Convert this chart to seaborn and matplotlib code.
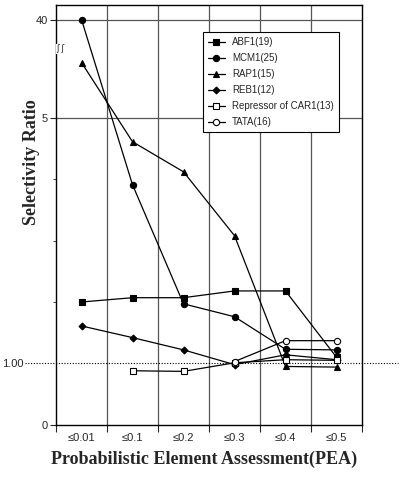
import numpy as np
import pandas as pd
import seaborn as sns
import matplotlib.pyplot as plt

categories = ["≤0.01", "≤0.1", "≤0.2", "≤0.3", "≤0.4", "≤0.5"]

abf1 = [2.00, 2.07, 2.07, 2.18, 2.18, 1.10]
mcm1 = [40.0, 3.91, 1.97, 1.76, 1.23, 1.22]
rap1 = [5.90, 4.61, 4.12, 3.08, 0.95, 0.94]
reb1 = [1.61, 1.42, 1.22, 0.98, 1.14, 1.06]
car1 = [np.nan, 0.88, 0.87, 1.01, 1.06, 1.05]
tata = [np.nan, np.nan, np.nan, 1.03, 1.37, 1.37]

series = {
    "ABF1(19)": (abf1, "s", "black"),
    "MCM1(25)": (mcm1, "o", "black"),
    "RAP1(15)": (rap1, "^", "black"),
    "REB1(12)": (reb1, "D", "black"),
    "Repressor of CAR1(13)": (car1, "s", "white"),
    "TATA(16)": (tata, "o", "white"),
}

ytick_vals = [0, 1, 5, 40]
ytick_labels = ["0", "1.00", "5", "40"]
ytick_minor = [2, 3, 4]

# broken y axis: linear up to the break, squeezed above it
bx = [-10, 6.2, 40, 1000]
by = [-10, 6.2, 6.6, 18.3]
def fwd(v):
    return np.interp(v, bx, by)
def inv(v):
    return np.interp(v, by, bx)

sns.set_style("white")
plt.rcParams["font.family"] = ["Liberation Sans", "DejaVu Sans"]

fig = plt.figure(figsize=(4, 4.8), dpi=100)
ax = fig.add_axes([0.14, 0.115, 0.765, 0.875])
ax.set_yscale("function", functions=(fwd, inv))

x = np.arange(len(categories))
for name, (vals, mk, fc) in series.items():
    df = pd.DataFrame({"x": x, "y": vals})
    sns.lineplot(data=df, x="x", y="y", ax=ax, color="black", lw=0.9,
                 marker=mk, markersize=4.5 if mk != "D" else 3.5,
                 markerfacecolor=fc, markeredgecolor="black",
                 markeredgewidth=0.8, label=name)

ax.set_xlim(-0.5, 5.5)
ax.set_ylim(0, inv(6.84))

# gridlines at category borders
for b in np.arange(0.5, 5.5, 1):
    ax.axvline(b, color="#555555", lw=0.9, zorder=0)
for v in [5, 40]:
    ax.axhline(v, color="#555555", lw=0.9, zorder=0)
ax.axhline(1, xmin=-0.1, xmax=1.118, color="black", lw=0.8, ls=(0, (1, 1.5)),
           clip_on=False, zorder=1)

ax.set_xticks(np.arange(-0.5, 6, 1))
ax.set_xticklabels([])
ax.set_xticks(x, minor=True)
ax.set_xticklabels(categories, minor=True, fontsize=8)
ax.tick_params(axis="x", which="major", bottom=True, length=5, width=0.8)
ax.tick_params(axis="x", which="minor", bottom=False, length=0, pad=6)
ax.set_yticks(ytick_vals)
ax.set_yticklabels(ytick_labels, fontsize=8)
ax.set_yticks(ytick_minor, minor=True)
ax.tick_params(axis="y", which="major", left=True, length=4, width=0.8, pad=2)
ax.tick_params(axis="y", which="minor", left=True, length=2, width=0.6)
# "1.00" sits further left, the dotted line runs past the axis
ax.yaxis.get_major_ticks()[1].set_pad(19)
ax.yaxis.get_major_ticks()[1].tick1line.set_visible(False)

for s in ax.spines.values():
    s.set_color("black")
    s.set_linewidth(1.0)

# axis break mark
ax.text(0.0, 0.895, "ʃ ʃ", transform=ax.transAxes, fontsize=6, ha="left",
        va="center", family="DejaVu Sans",
        bbox=dict(facecolor="white", edgecolor="none", pad=0.2))

ax.set_xlabel("")
ax.set_ylabel("")
fig.text(0.078, 0.663, "Selectivity Ratio", rotation=90, ha="center",
         va="center", fontsize=13, fontweight="bold", family="Liberation Serif")
fig.text(0.51, 0.042, "Probabilistic Element Assessment(PEA)", ha="center",
         va="center", fontsize=13, fontweight="bold", family="Liberation Serif")

leg = ax.legend(loc="upper left", bbox_to_anchor=(0.48, 0.935), fontsize=7,
                frameon=True, fancybox=False, edgecolor="black", framealpha=1,
                handlelength=1.8, labelspacing=0.62, borderpad=0.5,
                handletextpad=0.7, borderaxespad=0)
leg.get_frame().set_linewidth(0.8)

fig.savefig("out.png", dpi=100)
